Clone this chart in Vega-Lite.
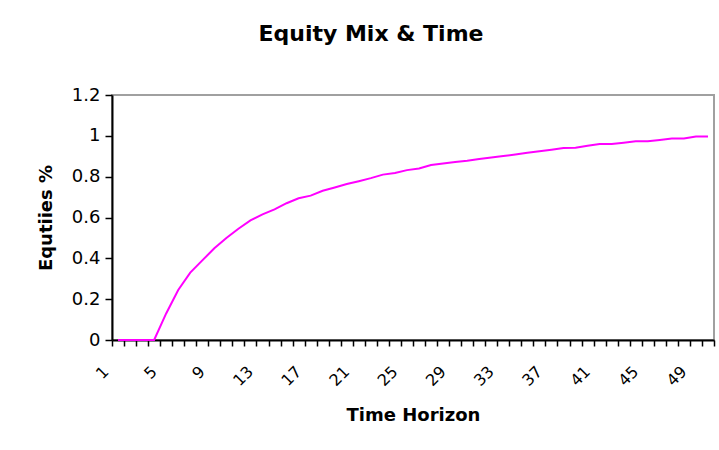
{
  "$schema": "https://vega.github.io/schema/vega-lite/v6.json",
  "autosize": {"type": "none"},
  "width": 602,
  "height": 245,
  "padding": {"left": 112, "top": 95, "right": 5, "bottom": 110},
  "background": "white",
  "title": {
    "text": "Equity Mix & Time",
    "font": "DejaVu Sans",
    "fontSize": 22,
    "fontWeight": "bold",
    "color": "black",
    "anchor": "middle",
    "frame": "group",
    "dx": -42,
    "offset": 40
  },
  "config": {
    "view": {"stroke": "#a0a0a0", "strokeWidth": 2},
    "axis": {
      "labelFont": "DejaVu Sans",
      "titleFont": "DejaVu Sans",
      "labelColor": "black",
      "titleColor": "black",
      "domainColor": "black",
      "tickColor": "black",
      "domainWidth": 2,
      "tickWidth": 1.5,
      "grid": false
    }
  },
  "data": {
    "values": [
      {"t": 1, "v": 0}, {"t": 2, "v": 0}, {"t": 3, "v": 0}, {"t": 4, "v": 0},
      {"t": 5, "v": 0.13}, {"t": 6, "v": 0.245}, {"t": 7, "v": 0.33}, {"t": 8, "v": 0.39},
      {"t": 9, "v": 0.449}, {"t": 10, "v": 0.5}, {"t": 11, "v": 0.545}, {"t": 12, "v": 0.586},
      {"t": 13, "v": 0.615}, {"t": 14, "v": 0.64}, {"t": 15, "v": 0.67}, {"t": 16, "v": 0.694},
      {"t": 17, "v": 0.707}, {"t": 18, "v": 0.731}, {"t": 19, "v": 0.747}, {"t": 20, "v": 0.764},
      {"t": 21, "v": 0.778}, {"t": 22, "v": 0.793}, {"t": 23, "v": 0.81}, {"t": 24, "v": 0.818},
      {"t": 25, "v": 0.832}, {"t": 26, "v": 0.84}, {"t": 27, "v": 0.857}, {"t": 28, "v": 0.865},
      {"t": 29, "v": 0.872}, {"t": 30, "v": 0.878}, {"t": 31, "v": 0.886}, {"t": 32, "v": 0.894},
      {"t": 33, "v": 0.901}, {"t": 34, "v": 0.909}, {"t": 35, "v": 0.917}, {"t": 36, "v": 0.924},
      {"t": 37, "v": 0.932}, {"t": 38, "v": 0.94}, {"t": 39, "v": 0.942}, {"t": 40, "v": 0.951},
      {"t": 41, "v": 0.96}, {"t": 42, "v": 0.96}, {"t": 43, "v": 0.966}, {"t": 44, "v": 0.973},
      {"t": 45, "v": 0.973}, {"t": 46, "v": 0.98}, {"t": 47, "v": 0.987}, {"t": 48, "v": 0.987},
      {"t": 49, "v": 0.997}, {"t": 50, "v": 0.997}
    ]
  },
  "mark": {"type": "line", "color": "#ff00ff", "strokeWidth": 2},
  "encoding": {
    "x": {
      "field": "t",
      "type": "ordinal",
      "sort": null,
      "scale": {"paddingInner": 0, "paddingOuter": 0},
      "axis": {
        "title": "Time Horizon",
        "titleFontSize": 18,
        "titleFontWeight": "bold",
        "titlePadding": 18,
        "labelAngle": -45,
        "labelFontSize": 16,
        "labelExpr": "datum.value % 4 == 1 ? datum.label : ''",
        "labelOffset": -18,
        "labelPadding": 17,
        "tickBand": "extent",
        "tickSize": 6,
        "labelOverlap": false
      }
    },
    "y": {
      "field": "v",
      "type": "quantitative",
      "scale": {"domain": [0, 1.2], "nice": false},
      "axis": {
        "title": "Equtiies %",
        "titleFontSize": 18,
        "titleFontWeight": "bold",
        "titlePadding": 16,
        "values": [0, 0.2, 0.4, 0.6, 0.8, 1, 1.2],
        "format": "~g",
        "labelFontSize": 18,
        "labelPadding": 5,
        "tickSize": 7
      }
    }
  }
}
